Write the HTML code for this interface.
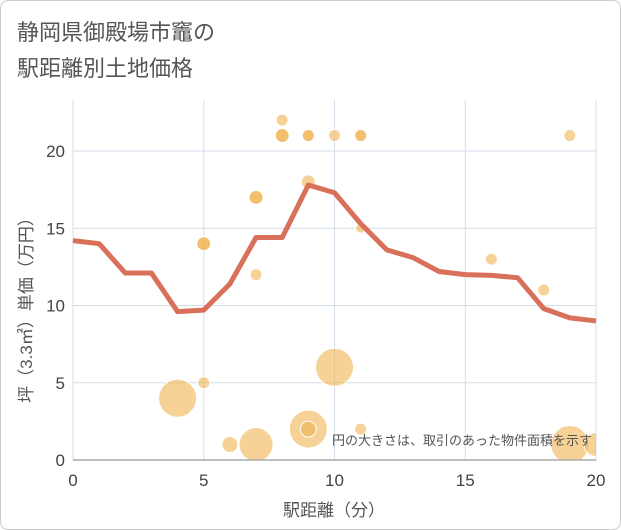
<!DOCTYPE html>
<html><head><meta charset="utf-8"><style>
body{margin:0;background:#fff;}
.card{position:absolute;left:0;top:0;width:619px;height:528px;border:1px solid #ccc;border-radius:8px;background:#fff;}
text{font-family:"Liberation Sans","Noto Sans CJK JP",sans-serif;}
</style></head><body>
<div class="card"></div>
<svg id="c" width="621" height="530" style="position:absolute;left:0;top:0">
<text x="17" y="40" font-size="22" fill="#555">静岡県御殿場市竈の</text>
<text x="17" y="76" font-size="22" fill="#555">駅距離別土地価格</text>
<g id="grid"></g><g id="bub"></g><g id="ln"></g><g id="ax"></g>
<text x="334" y="516" font-size="17" fill="#555" text-anchor="middle">駅距離（分）</text>
<text transform="translate(32,306) rotate(-90)" font-size="17" fill="#555" text-anchor="middle">坪（3.3㎡）単価（万円）</text>
<text x="592" y="445" font-size="13" fill="#555" text-anchor="end">円の大きさは、取引のあった物件面積を示す</text>
</svg>
<script>
const xTicks=[0,5,10,15,20];
const yTicks=[0,5,10,15,20];
const lineX=[0,1,2,3,4,5,6,7,8,9,10,11,12,13,14,15,16,17,18,19,20];
const lineY=[14.2,14,12.1,12.1,9.6,9.7,11.4,14.4,14.4,17.8,17.3,15.3,13.6,13.1,12.2,12,11.95,11.8,9.8,9.2,9];
const bubX=[8,8,8,9,9,10,11,11,19,9,7,7,5,5,11,16,7,18,5,4,10,9,9,11,6,7,19,20];
const bubY=[22,21,21,21,21,21,21,21,21,18,17,17,14,14,15,13,12,11,5,4,6,2,2,2,1,1,1,1];
const bubR=[6,7,7,6,6,6,6,6,6,7,7,7,7,7,5,6,6,6,6,19,19,19,8,6,8,17,19,12];
const L=73,R=596,T=100,B=460;
const sx=v=>L+(v-0)/20*(R-L), sy=v=>B-v/20*(B-151);
const NS='http://www.w3.org/2000/svg';
function mk(t,a,p){const e=document.createElementNS(NS,t);for(const k in a)e.setAttribute(k,a[k]);p.appendChild(e);return e;}
const g=document.getElementById('grid'),ax=document.getElementById('ax'),bb=document.getElementById('bub'),ln=document.getElementById('ln');
xTicks.forEach(v=>{const l=mk('line',{x1:sx(v),x2:sx(v),y1:T,y2:B,stroke:'#d3dde8','stroke-width':1},g);
const t=mk('text',{x:sx(v),y:B+26,'font-size':17,fill:'#444','text-anchor':'middle'},ax);t.textContent=v;});
yTicks.forEach(v=>{const l=mk('line',{x1:L,x2:R,y1:sy(v),y2:sy(v),stroke:'#d3dde8','stroke-width':1},g);
const t=mk('text',{x:L-8,y:sy(v)+6,'font-size':17,fill:'#444','text-anchor':'end'},ax);t.textContent=v;});
const a=mk('line',{x1:L,x2:R,y1:B,y2:B,stroke:'#aaa','stroke-width':1.5},ax);
mk('clipPath',{id:'cp'},bb);mk('rect',{x:L,y:T,width:R-L,height:B-T},document.getElementById('cp'));
bubX.forEach((x,i)=>{const c=mk('circle',{cx:sx(x),cy:sy(bubY[i]),r:bubR[i],fill:'rgba(240,180,80,0.6)',stroke:'#fff','stroke-width':1,'clip-path':'url(#cp)'},bb);});
const p=mk('polyline',{points:lineX.map((x,i)=>sx(x)+','+sy(lineY[i])).join(' '),fill:'none',stroke:'#d9705a','stroke-width':5,'stroke-linejoin':'round'},ln);

</script>
</body></html>
